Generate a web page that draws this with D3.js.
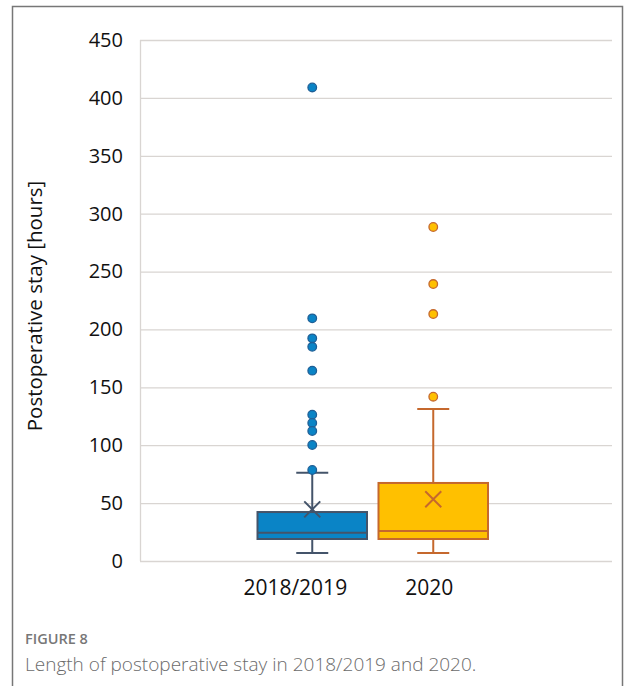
<!DOCTYPE html>
<html><head><meta charset="utf-8">
<script src="https://cdn.jsdelivr.net/npm/d3@7"></script>
<style>body{margin:0;background:#fff;} svg{display:block;}</style>
</head><body>
<script>
const categories = ["2018/2019", "2020"];
const q1 = [19, 19];
const medians = [24.5, 26];
const q3 = [42.3, 67.4];
const whiskerLow = [7, 7];
const whiskerHigh = [76.3, 131.3];
const means = [44.6, 53.3];
const outliers = [
  [409, 209.6, 192.3, 185, 164.4, 126.4, 119.2, 112.3, 100.2, 78.6],
  [288.5, 239.2, 213.3, 141.9]
];
const yTicks = [0, 50, 100, 150, 200, 250, 300, 350, 400, 450];
const fills = ["#0a84c6", "#ffc000"];
const strokes = ["#44546a", "#c5682d"];
const dotStrokes = ["#1f5f96", "#c5682d"];

const W = 625, H = 686;
const svg = d3.select("body").append("svg").attr("width", W).attr("height", H);

svg.append("path").attr("d", `M12.5,${H} L12.5,6.5 L622.5,6.5 L622.5,${H}`)
  .attr("fill", "none").attr("stroke", "#777").attr("stroke-width", 1.5);

const pLeft = 140, pRight = 612, pTop = 40, pBottom = 561;
const y = d3.scaleLinear().domain([0, 450]).range([pBottom, pTop]);
const x = d3.scaleBand().domain(categories).range([257.5, 488]).paddingInner(0.095).paddingOuter(0);

const g = svg.append("g");
g.selectAll("line.grid").data(yTicks).enter().append("line")
  .attr("x1", pLeft).attr("x2", pRight)
  .attr("y1", d => y(d) + 0.5).attr("y2", d => y(d) + 0.5)
  .attr("stroke", "#d9d5d2").attr("stroke-width", 1.3);
g.append("line").attr("x1", pLeft + 0.5).attr("x2", pLeft + 0.5).attr("y1", pTop).attr("y2", pBottom)
  .attr("stroke", "#d9d5d2").attr("stroke-width", 1.3);

const yAxis = d3.axisLeft(y).tickValues(yTicks).tickSize(0).tickPadding(17);
const ya = svg.append("g").attr("transform", `translate(${pLeft},0)`).call(yAxis);
ya.select(".domain").remove();
ya.selectAll("text").attr("font-family", "Open Sans, sans-serif").attr("font-size", 20).attr("fill", "#111");

const labelShift = [-17, -4];
const xAxis = d3.axisBottom(x).tickSize(0).tickPadding(19);
const xa = svg.append("g").attr("transform", `translate(0,${pBottom})`).call(xAxis);
xa.select(".domain").remove();
xa.selectAll("text").attr("font-family", "Open Sans, sans-serif").attr("font-size", 21).attr("fill", "#111")
  .attr("dx", (d, i) => labelShift[i]);

svg.append("text").attr("transform", "translate(42,306) rotate(-90)")
  .attr("text-anchor", "middle").attr("font-family", "Open Sans, sans-serif")
  .attr("font-size", 20.5).attr("fill", "#111").text("Postoperative stay [hours]");

const bw = x.bandwidth();
const capW = 32;
categories.forEach((c, i) => {
  const cx = x(c) + bw / 2;
  const gg = svg.append("g");
  gg.append("line").attr("x1", cx).attr("x2", cx).attr("y1", y(q3[i])).attr("y2", y(whiskerHigh[i]))
    .attr("stroke", strokes[i]).attr("stroke-width", 2);
  gg.append("line").attr("x1", cx).attr("x2", cx).attr("y1", y(q1[i])).attr("y2", y(whiskerLow[i]))
    .attr("stroke", strokes[i]).attr("stroke-width", 2);
  [whiskerHigh[i], whiskerLow[i]].forEach(v => {
    gg.append("line").attr("x1", cx - capW / 2).attr("x2", cx + capW / 2).attr("y1", y(v)).attr("y2", y(v))
      .attr("stroke", strokes[i]).attr("stroke-width", 2);
  });
  gg.append("rect").attr("x", x(c)).attr("width", bw).attr("y", y(q3[i])).attr("height", y(q1[i]) - y(q3[i]))
    .attr("fill", fills[i]).attr("stroke", strokes[i]).attr("stroke-width", 2);
  gg.append("line").attr("x1", x(c)).attr("x2", x(c) + bw).attr("y1", y(medians[i])).attr("y2", y(medians[i]))
    .attr("stroke", strokes[i]).attr("stroke-width", 2);
  const my = y(means[i]), s = 8;
  gg.append("path").attr("d", `M${cx - s},${my - s}L${cx + s},${my + s}M${cx - s},${my + s}L${cx + s},${my - s}`)
    .attr("stroke", strokes[i]).attr("stroke-width", 2).attr("fill", "none");
  gg.selectAll("circle").data(outliers[i]).enter().append("circle")
    .attr("cx", cx).attr("cy", d => y(d)).attr("r", 4.3)
    .attr("fill", fills[i]).attr("stroke", dotStrokes[i]).attr("stroke-width", 1.3);
});

svg.append("text").attr("x", 25).attr("y", 644).attr("font-family", "Open Sans, sans-serif")
  .attr("font-size", 14.5).attr("font-weight", 600).attr("fill", "#777").text("FIGURE 8");
svg.append("text").attr("x", 25).attr("y", 671).attr("font-family", "Open Sans, sans-serif")
  .attr("font-size", 19).attr("font-weight", 300).attr("fill", "#6b6b6b").text("Length of postoperative stay in 2018/2019 and 2020.");
</script>
</body></html>
